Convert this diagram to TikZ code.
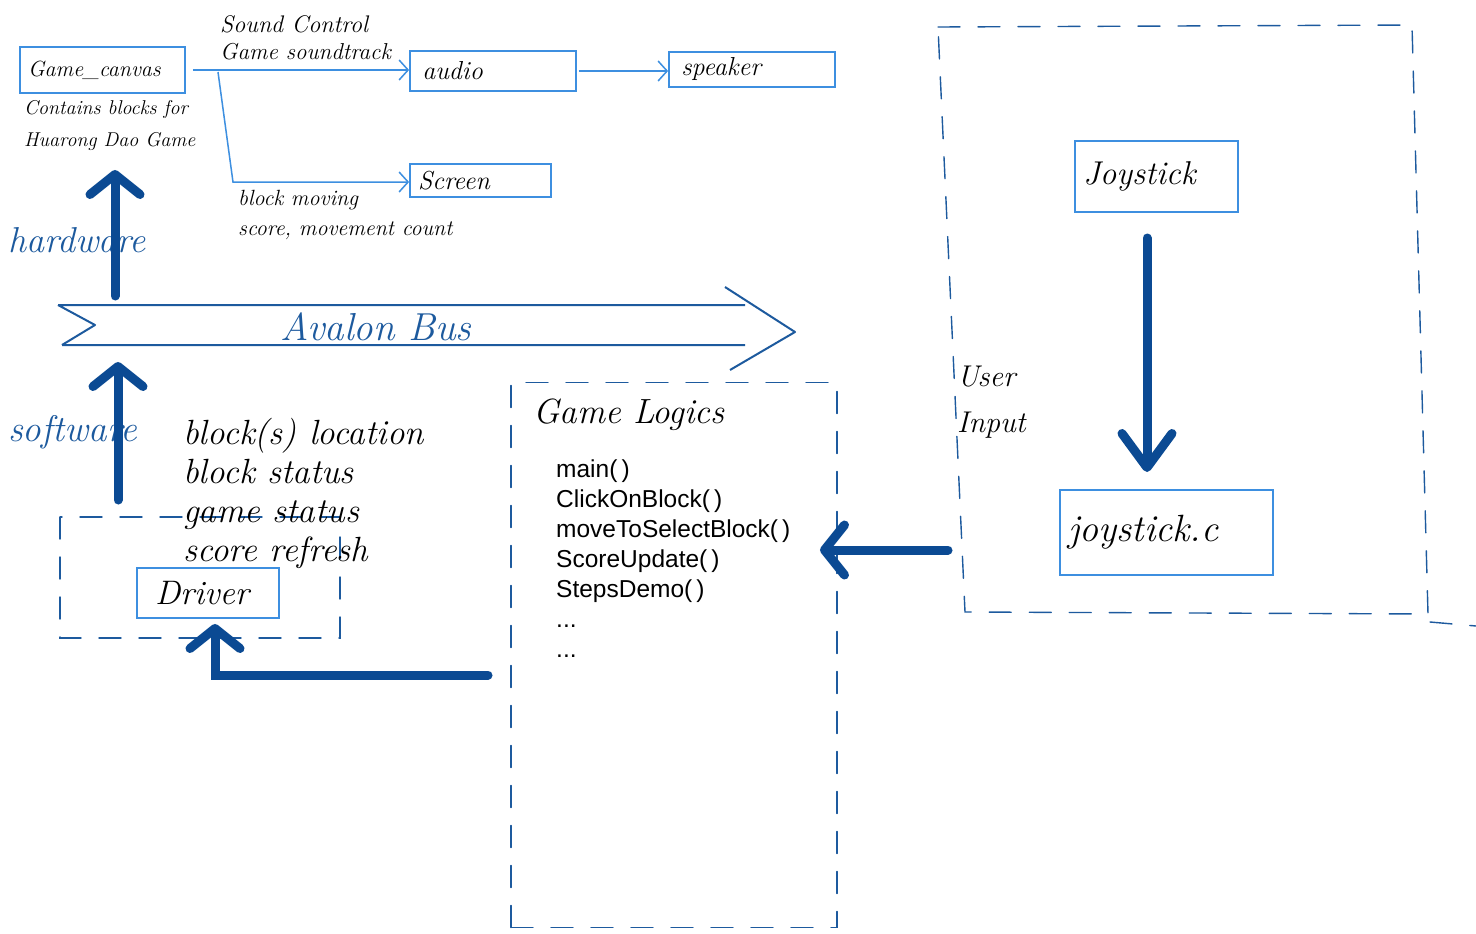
\documentclass[tikz,border=0pt]{standalone}
\usepackage{fontspec}
\newfontfamily\codefont{Liberation Sans}
\usetikzlibrary{arrows.meta}
\definecolor{boxblue}{HTML}{3D8FE0}
\definecolor{darkblue}{HTML}{0B4A93}
\definecolor{penblue}{HTML}{1D5A9E}
\newcommand\hwf[2]{\fontsize{#1}{#2}\selectfont\itshape}
\begin{document}
\begin{tikzpicture}[x=1pt,y=-1pt,
  box/.style={draw=boxblue, line width=1.8pt, inner xsep=8pt, inner ysep=0pt, align=left},
  thinarrow/.style={draw=boxblue, line width=1.5pt, -{Straight Barb[length=9pt,width=20pt]}},
  bigarrow/.style={draw=darkblue, line width=9pt, line cap=round, -{Straight Barb[length=20pt,width=50pt,round]}},
  longhead/.style={draw=darkblue, line width=9pt, line cap=round, -{Straight Barb[length=34pt,width=50pt,round]}},
  dashbox/.style={draw=penblue, line width=1.4pt, dash pattern=on 22pt off 18pt, line cap=round},
  lbl/.style={inner sep=0pt, align=left},
]
\useasboundingbox[fill=white] (0,0) rectangle (1476,934);

% top boxes
\node[box, minimum width=165pt, minimum height=46pt, text width=149pt, font={\hwf{22}{26}}] (canvas) at (102.5,70) {Game\_canvas};
\node[box, minimum width=166pt, minimum height=40pt, text width=150pt, font={\hwf{26}{30}}] (audio) at (493,71) {\,audio};
\node[box, minimum width=166pt, minimum height=35pt, text width=150pt, font={\hwf{26}{30}}] (speaker) at (752,69.5) {\,speaker};
\node[box, minimum width=141pt, minimum height=33pt, text width=125pt, font={\hwf{26}{30}}] (screen) at (480.5,180.5) {Screen};

\coordinate (split) at (218,72);
\coordinate (bend) at (233,182);
\draw[thinarrow] ([xshift=7pt]canvas.east) -- (canvas.east -| audio.west);
\draw[thinarrow] (split) -- (bend) -- (bend -| screen.west);
\draw[thinarrow] ([xshift=2pt]audio.east) -- (audio.east -| speaker.west);

\node[lbl, anchor=west, font={\hwf{24}{28}}] (sc) at (220,24) {Sound Control};
\node[lbl, anchor=west, font={\hwf{23}{28}}] (gs) at (220,52) {Game soundtrack};
\node[lbl, anchor=north west, font={\hwf{20}{32}}] (contains) at (24,100) {Contains blocks for\\Huarong Dao Game};
\node[lbl, anchor=north west, font={\hwf{22}{30}}] (moving) at (238,190) {block moving\\score, movement count};

% hardware / software
\node[lbl, anchor=west, text=penblue, font={\hwf{36}{40}}] (hw) at (8,240) {hardware};
\node[lbl, anchor=west, text=penblue, font={\hwf{37}{40}}] (sw) at (8,432) {software};
\coordinate (hwfrom) at (115,296);
\coordinate (hwto) at (115,170);
\draw[bigarrow] (hwfrom) -- (hwto);
\coordinate (swfrom) at (118,500);
\coordinate (swto) at (118,362);
\draw[bigarrow] (swfrom) -- (swto);

% Avalon bus
\draw[penblue, line width=2pt, line join=round]
  (58,305) -- (745,305)
  (62,345) -- (745,345)
  (58,305) -- (95,325) -- (62,345)
  (725,287) -- (795,332) -- (730,370);
\node[lbl, text=penblue, font={\hwf{39}{42}}] (bus) at (376,327) {Avalon Bus};

% driver region
\draw[dashbox] (60,517) rectangle (340,638);
\node[box, minimum width=142pt, minimum height=50pt, text width=126pt, font={\hwf{34}{38}}] (driver) at (208,593) {\hspace{10pt}Driver};
\node[lbl, anchor=north west, font={\hwf{35}{39}}] (status) at (183,418) {block(s) location\\block status\\game status\\score refresh};

% game logics
\node[dashbox, minimum width=326pt, minimum height=545pt, inner sep=0pt] (logic) at (674,655) {};
\node[lbl, anchor=west, font={\hwf{35}{38}}] (gltitle) at (533,415) {Game Logics};
\node[lbl, anchor=north west, font={\codefont\fontsize{24.5}{30}\selectfont}] (funcs) at (556,460) {main(\,)\\ClickOnBlock(\,)\\moveToSelectBlock(\,)\\ScoreUpdate(\,)\\StepsDemo(\,)\\...\\...};

\coordinate (glout) at (488,675);
\coordinate (drvin) at (215,624);
\draw[bigarrow] (glout) -| (drvin);

% user input region
\draw[dashbox] (938,27) -- (1412,25) -- (1428,614) -- (965,612) -- cycle;
\draw[dashbox] (1430,622) -- (1476,626);
\node[box, minimum width=163pt, minimum height=71pt, text width=147pt, font={\hwf{33}{38}}] (joy) at (1156.5,176.5) {Joystick};
\node[box, minimum width=213pt, minimum height=85pt, text width=197pt, font={\hwf{38}{42}}] (joyc) at (1166.5,532.5) {joystick.c};
\coordinate (joyout) at (1147,238);
\coordinate (joycin) at (1147,472);
\draw[longhead] (joyout) -- (joycin);
\node[lbl, anchor=north west, font={\hwf{30}{46}}] (user) at (957,366) {User\\Input};

\coordinate (uiout) at (948,550);
\coordinate (glin) at (820,550);
\draw[bigarrow] (uiout) -- (glin);
\end{tikzpicture}
\end{document}
